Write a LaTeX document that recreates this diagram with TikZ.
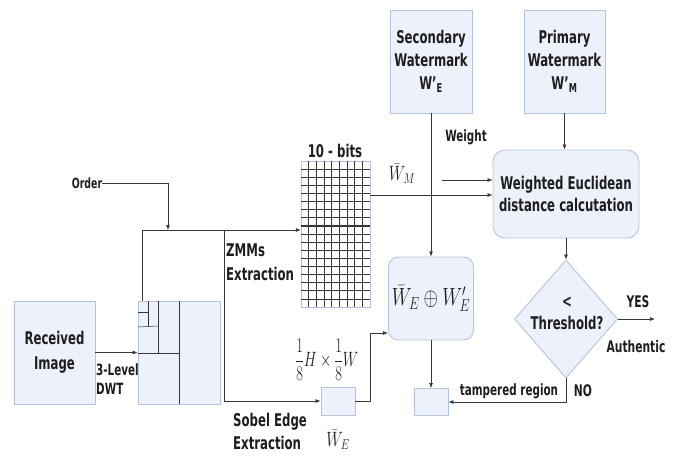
\documentclass[tikz,border=0pt]{standalone}
\usepackage{fontspec}
\usepackage{graphicx}
\setmainfont{DejaVu Sans}[FakeStretch=0.67]
\usetikzlibrary{shapes.geometric,arrows.meta}
\definecolor{boxfill}{RGB}{236,241,250}
\definecolor{boxline}{RGB}{180,196,222}
\definecolor{ink}{RGB}{30,30,30}
\definecolor{wirec}{RGB}{55,55,55}
\newcommand{\bigf}{\fontsize{17.5}{22}\selectfont\bfseries}
\newcommand{\midf}{\fontsize{15.5}{19}\selectfont\bfseries}
\newcommand{\smf}{\fontsize{14}{17}\selectfont\bfseries}
\newcommand{\mth}[2][20]{\scalebox{0.75}[1]{\fontsize{#1}{24}\selectfont$#2$}}
\begin{document}
\begin{tikzpicture}[x=1pt,y=-1pt,
  box/.style={draw=boxline, fill=boxfill, line width=0.9pt, inner sep=0pt, align=center, text=ink, font=\bigf},
  wire/.style={draw=wirec, line width=0.7pt},
  arr/.style={wire, -{Latex[length=5pt,width=4pt]}},
  lab/.style={text=ink, inner sep=0pt, align=center, font=\bigf},
  gridline/.style={draw=wirec, line width=0.6pt}]
\useasboundingbox (0,0) rectangle (682,458);

% boxes
\node[box, minimum width=81, minimum height=103] (recv) at (54.5,352.5) {Received\\[3pt]Image};
\node[box, minimum width=82, minimum height=103] (dwt) at (179,352.5) {};
\node[box, minimum width=82, minimum height=103, font=\fontsize{17.5}{23}\selectfont\bfseries] (sec) at (431,61.5) {Secondary\\Watermark\\W'\textsubscript{E}};
\node[box, minimum width=81, minimum height=103, font=\fontsize{17.5}{23}\selectfont\bfseries] (pri) at (564.5,61.5) {Primary\\Watermark\\W'\textsubscript{M}};
\node[box, rounded corners=12pt, minimum width=146, minimum height=88] (wed) at (566,194) {Weighted Euclidean\\distance calcutation};
\node[box, diamond, minimum width=103, minimum height=118] (dia) at (566,319) {};
\node[lab] (dtext) at (567,313) {<\\Threshold?};
\node[box, rounded corners=10pt, minimum width=85, minimum height=83] (xor) at (431,298.5) {\mth[23]{\bar{W}_E\oplus W'_E}};
\node[box, minimum width=34, minimum height=27] (tamp) at (431,402) {};
\node[box, minimum width=34, minimum height=28] (sobel) at (338,401) {};

% DWT subdivisions
\draw[wire, line width=0.6pt] (158,301) -- (158,353);
\draw[wire, line width=0.6pt] (179,301) -- (179,404);
\draw[wire, line width=0.6pt] (138,353) -- (179,353);
\draw[wire, line width=0.5pt] (148,301) -- (148,327);
\draw[wire, line width=0.5pt] (138,327) -- (158,326);
\draw[wire, line width=0.5pt] (138,312) -- (148,312);

% grid
\node[inner sep=0pt, minimum width=69, minimum height=146] (grid) at (335.5,234) {};
\draw[draw=boxline, line width=0.6pt] (grid.north west) rectangle (grid.south east);
\foreach \i in {1,...,8} \draw[gridline] (301+\i*7.667,161) -- (301+\i*7.667,307);
\foreach \j in {1,...,17} \draw[gridline] (301,161+\j*8.11) -- (370,161+\j*8.11);
\draw[wirec, line width=1.2pt] (301,161+8*8.11) -- (370,161+8*8.11);
\draw[wirec, line width=1.2pt] (301,161+14*8.11) -- (370,161+14*8.11);

% connectors
\coordinate (j1) at (143,230);
\coordinate (oj) at (168,230);
\coordinate (zj) at (224,230);
\coordinate (go) at (0,195);
\coordinate (wt) at (442,180);
\coordinate (sx) at (370,333);
\coordinate (yes) at (655,319);

\node[lab, font=\smf] (order) at (87,183) {Order};
\draw[arr] (recv.east) -- (dwt.west |- recv.east);
\draw[arr] ([xshift=5pt]dwt.north west) |- (grid.west |- j1);
\draw[arr] (order.east) -| (oj);
\draw[arr] (zj) |- (sobel.west);
\draw[arr] (sobel.east) -| (sx) -- (sx -| xor.west);
\draw[arr] (grid.east |- go) -- (wed.west |- go);
\draw[arr] (wt) -- (wt -| wed.west);
\draw[arr] (sec.south) -- (xor.north);
\draw[arr] (pri.south) -- (pri.south |- wed.north);
\draw[arr] (wed.south) -- (dia.north);
\draw[arr] (dia.east) -- (yes);
\draw[arr] (dia.south) |- (tamp.east);
\draw[arr] (xor.south) -- (tamp.north);

% labels
\node[lab, font=\midf, align=left, anchor=west] (lvl) at (96,379) {3-Level\\DWT};
\node[lab, font=\fontsize{17.5}{24}\selectfont\bfseries, align=left, anchor=west] (zmm) at (226,262) {ZMMs\\Extraction};
\node[lab] (bits) at (335,151) {10 - bits};
\node[lab] (wm) at (402,174) {\mth[21]{\bar{W}_M}};
\node[lab, font=\midf] (weight) at (466,137) {Weight};
\node[lab, font=\fontsize{16}{19}\selectfont\bfseries] (yeslab) at (638,302) {YES};
\node[lab, font=\fontsize{16}{19}\selectfont\bfseries] (auth) at (636,347) {Authentic};
\node[lab, font=\fontsize{16}{19}\selectfont\bfseries] (nolab) at (583,391) {NO};
\node[lab, font=\midf] (treg) at (509,391) {tampered region};
\node[lab] (frac) at (327,360) {\scalebox{0.7}[1]{\fontsize{20}{24}\selectfont$\displaystyle\frac{1}{8}H\times\frac{1}{8}W$}};
\node[lab, font=\fontsize{17.5}{23}\selectfont\bfseries, align=left, anchor=west] (sob) at (233,431) {Sobel Edge\\Extraction};
\node[lab] (we) at (338,440) {\mth[21]{\bar{W}_E}};
\end{tikzpicture}
\end{document}
